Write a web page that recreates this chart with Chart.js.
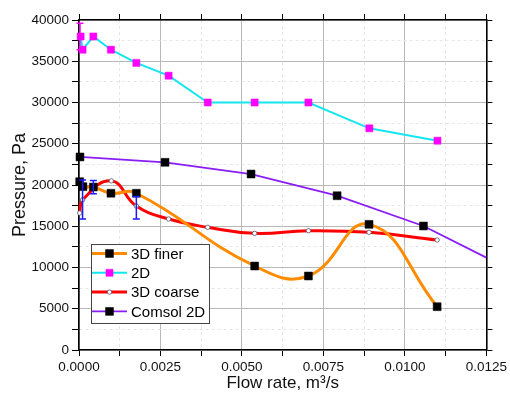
<!DOCTYPE html>
<html>
<head>
<meta charset="utf-8">
<script src="https://cdn.jsdelivr.net/npm/chart.js@4.4.0/dist/chart.umd.min.js"></script>
<style>
  html, body { margin: 0; padding: 0; background: #fff; }
  #wrap { width: 510px; height: 401px; }
</style>
</head>
<body>
<div id="wrap"><canvas id="pressureChart" width="510" height="401"></canvas></div>
<script>
// values
const finerX = [0.00002, 0.00012, 0.00044, 0.00098, 0.00176, 0.00539, 0.00704, 0.0089, 0.01099];
const finerY = [20400, 19800, 19750, 19000, 19000, 10180, 8970, 15230, 5250];

const twoDX = [0.00005, 0.00011, 0.00044, 0.00098, 0.00176, 0.00275, 0.00395, 0.00539, 0.00704, 0.00891, 0.0110];
const twoDY = [38000, 36400, 38000, 36400, 34800, 33250, 30000, 30000, 30000, 26870, 25370];

const coarseX = [0.00002, 0.00011, 0.00099, 0.00176, 0.00275, 0.00395, 0.00539, 0.00704, 0.0089, 0.01099];
const coarseY = [16600, 18200, 20500, 17450, 15880, 14870, 14140, 14460, 14260, 13330];

const comsolX = [0.00003, 0.00264, 0.00528, 0.00792, 0.01057, 0.0125];
const comsolY = [23400, 22750, 21330, 18700, 15030, 11200];

// error bars
const errX = [0.00011, 0.00044, 0.00176, 0.00003];
const errLo = [15880, 18950, 15880, 36400];
const errHi = [20600, 20550, 18600, 39600];
const errColor = ['#1a1aff', '#1a1aff', '#1a1aff', '#ff00ff'];

const xTicks = ['0.0000', '0.0025', '0.0050', '0.0075', '0.0100', '0.0125'];
const yTicks = ['0', '5000', '10000', '15000', '20000', '25000', '30000', '35000', '40000'];

const pts = (xs, ys) => xs.map((x, i) => ({ x: x, y: ys[i] }));

const errorBars = {
    id: 'errorBars',
    afterDatasetsDraw(chart) {
        const { ctx, scales } = chart;
        ctx.save();
        ctx.lineWidth = 1.5;
        errX.forEach((x, i) => {
            const px = scales.x.getPixelForValue(x);
            const lo = scales.y.getPixelForValue(errLo[i]);
            const hi = scales.y.getPixelForValue(errHi[i]);
            ctx.strokeStyle = errColor[i];
            ctx.beginPath();
            ctx.moveTo(px, lo); ctx.lineTo(px, hi);
            ctx.moveTo(px - 3.5, lo); ctx.lineTo(px + 3.5, lo);
            ctx.moveTo(px - 3.5, hi); ctx.lineTo(px + 3.5, hi);
            ctx.stroke();
        });
        ctx.restore();
    }
};

// legend drawn inside the plot, bottom left
const innerLegend = {
    id: 'innerLegend',
    afterDraw(chart) {
        const ctx = chart.ctx;
        const left = 91, top = 244, w = 118, h = 79;
        ctx.save();
        ctx.fillStyle = '#fff';
        ctx.fillRect(left, top, w, h);
        ctx.strokeStyle = '#444';
        ctx.lineWidth = 1;
        ctx.strokeRect(left + 0.5, top + 0.5, w, h);
        ctx.font = '15px "Liberation Sans", Arial, sans-serif';
        ctx.textBaseline = 'middle';
        chart.data.datasets.forEach((ds, i) => {
            const y = top + 9.5 + i * 19.3;
            ctx.strokeStyle = ds.borderColor;
            ctx.lineWidth = ds.borderWidth;
            ctx.beginPath();
            ctx.moveTo(left + 1, y); ctx.lineTo(left + 36, y);
            ctx.stroke();
            const r = Array.isArray(ds.pointRadius) ? ds.pointRadius[0] : ds.pointRadius;
            ctx.fillStyle = ds.pointBackgroundColor;
            ctx.strokeStyle = ds.pointBorderColor;
            ctx.lineWidth = ds.pointBorderWidth;
            Chart.helpers.drawPoint(ctx, {
                pointStyle: ds.pointStyle, radius: r, rotation: 0, borderWidth: ds.pointBorderWidth
            }, left + 18.5, y);
            ctx.fillStyle = '#000';
            ctx.fillText(ds.label, left + 40, y + 1);
        });
        ctx.restore();
    }
};

const tickFont = { family: '"Liberation Sans", Arial, sans-serif', size: 13.5 };
const isMajor = (v, step) => Math.abs(v / step - Math.round(v / step)) < 1e-6;
const gridColor = step => c => (c.tick && isMajor(c.tick.value, step)) ? '#b8b8b8' : '#e6e6e6';
const gridDash = step => c => (c.tick && !isMajor(c.tick.value, step)) ? [3, 3] : [];

const ctx = document.getElementById('pressureChart').getContext('2d');
new Chart(ctx, {
    type: 'line',
    data: {
        datasets: [
            {
                label: '3D finer',
                data: pts(finerX, finerY),
                borderColor: '#ff8c00',
                borderWidth: 3,
                tension: 0.45,
                pointStyle: 'rect',
                pointRadius: 5.6,
                pointBackgroundColor: '#000',
                pointBorderColor: '#000',
                pointBorderWidth: 0.5,
                clip: false
            },
            {
                label: '2D',
                data: pts(twoDX, twoDY),
                borderColor: '#14e6f0',
                borderWidth: 2,
                tension: 0,
                pointStyle: 'rect',
                pointRadius: 5,
                pointBackgroundColor: '#ff00ff',
                pointBorderColor: '#ff00ff',
                pointBorderWidth: 0.5,
                clip: false
            },
            {
                label: '3D coarse',
                data: pts(coarseX, coarseY),
                borderColor: '#ff0000',
                borderWidth: 3,
                tension: 0.45,
                pointStyle: 'circle',
                pointRadius: 2.2,
                pointBackgroundColor: '#fff',
                pointBorderColor: '#555570',
                pointBorderWidth: 0.8,
                clip: false
            },
            {
                label: 'Comsol 2D',
                data: pts(comsolX, comsolY),
                borderColor: '#8a1cf5',
                borderWidth: 1.8,
                tension: 0,
                pointStyle: 'rect',
                pointRadius: [5.6, 5.6, 5.6, 5.6, 5.6, 0],
                pointBackgroundColor: '#000',
                pointBorderColor: '#000',
                pointBorderWidth: 0.5,
                clip: false
            }
        ]
    },
    options: {
        responsive: false,
        animation: false,
        layout: { padding: 0 },
        plugins: {
            legend: { display: false },
            tooltip: { enabled: false }
        },
        scales: {
            x: {
                type: 'linear',
                position: 'bottom',
                min: 0,
                max: 0.0125,
                afterFit: s => { s.height = 51; },
                ticks: {
                    stepSize: 0.00125,
                    autoSkip: false,
                    maxRotation: 0,
                    padding: 3,
                    color: '#111',
                    font: tickFont,
                    callback: v => isMajor(v, 0.0025) ? xTicks[Math.round(v / 0.0025)] : ''
                },
                grid: {
                    color: gridColor(0.0025),
                    tickColor: '#000',
                    tickLength: 6,
                    lineWidth: 1
                },
                border: { color: '#000', width: 1.6, dash: gridDash(0.0025) },
                title: {
                    display: true,
                    text: 'Flow rate, m\u00b3/s',
                    color: '#111',
                    font: { family: '"Liberation Sans", Arial, sans-serif', size: 17 },
                    padding: { top: 0, bottom: 7 }
                }
            },
            x2: {
                type: 'linear',
                position: 'top',
                min: 0,
                max: 0.0125,
                afterFit: s => { s.height = 20; },
                ticks: { stepSize: 0.00125, autoSkip: false, display: false },
                grid: { drawOnChartArea: false, tickColor: '#000', tickLength: 6 },
                border: { color: '#000', width: 1.6 }
            },
            y: {
                type: 'linear',
                position: 'left',
                min: 0,
                max: 40000,
                afterFit: s => { s.width = 79; },
                ticks: {
                    stepSize: 2500,
                    autoSkip: false,
                    padding: 3,
                    color: '#111',
                    font: tickFont,
                    callback: v => isMajor(v, 5000) ? yTicks[Math.round(v / 5000)] : ''
                },
                grid: {
                    color: gridColor(5000),
                    tickColor: '#000',
                    tickLength: 7,
                    lineWidth: 1
                },
                border: { color: '#000', width: 1.6, dash: gridDash(5000) },
                title: {
                    display: true,
                    text: 'Pressure, Pa',
                    color: '#111',
                    font: { family: '"Liberation Sans", Arial, sans-serif', size: 18 },
                    padding: { top: 9, bottom: 0 }
                }
            },
            y2: {
                type: 'linear',
                position: 'right',
                min: 0,
                max: 40000,
                afterFit: s => { s.width = 22; },
                ticks: { stepSize: 2500, autoSkip: false, display: false },
                grid: { drawOnChartArea: false, tickColor: '#000', tickLength: 6 },
                border: { color: '#000', width: 1.6 }
            }
        }
    },
    plugins: [errorBars, innerLegend]
});
</script>
</body>
</html>
